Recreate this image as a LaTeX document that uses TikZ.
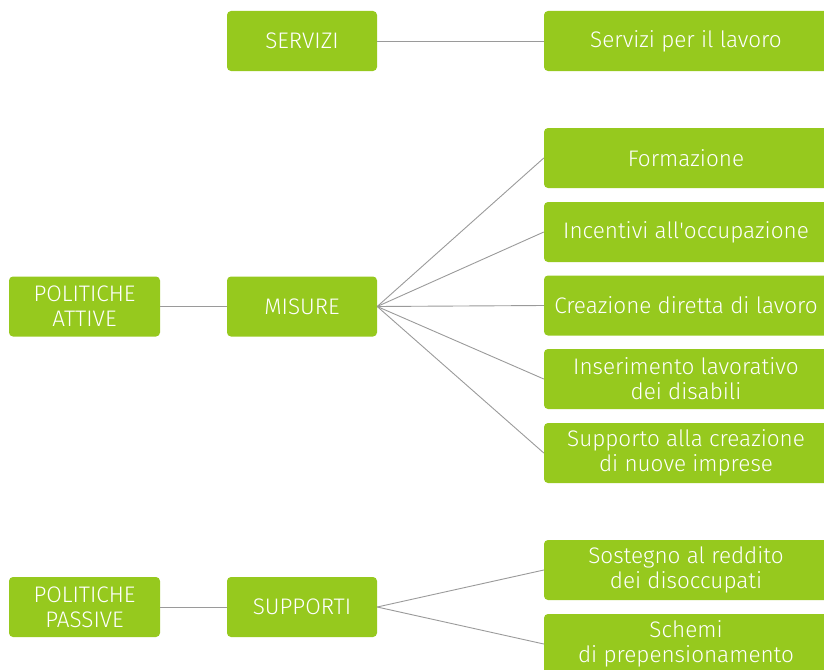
\documentclass[tikz,border=0pt]{standalone}
\usepackage{fontspec}
\setmainfont{Fira Sans Light}
\definecolor{boxgreen}{HTML}{96C91E}
\definecolor{linegray}{HTML}{9A9A9A}
\begin{document}
\begin{tikzpicture}[x=1pt,y=-1pt,
  gbox/.style={fill=boxgreen,draw=none,rounded corners=4pt,text=white,
    font=\fontsize{22.5}{25}\selectfont,align=center,inner sep=0pt,
    minimum height=60pt},
  leftbox/.style={gbox,minimum width=151pt},
  midbox/.style={gbox,minimum width=150pt},
  rightbox/.style={gbox,minimum width=284pt},
  conn/.style={draw=linegray,line width=0.9pt}]
\useasboundingbox (0,0) rectangle (824,669);
\begin{scope}
\clip (0,0) rectangle (824,669);
\node[midbox] (servizi) at (302,41) {SERVIZI};
\node[rightbox] (splav) at (686,41) {Servizi per il lavoro};

\node[leftbox] (attive) at (84.5,306.5) {POLITICHE\\ATTIVE};
\node[midbox] (misure) at (302,306.5) {MISURE};
\node[rightbox] (form) at (686,158) {Formazione};
\node[rightbox] (incent) at (686,232) {Incentivi all\textquotesingle occupazione};
\node[rightbox] (creaz) at (686,305.5) {Creazione diretta di lavoro};
\node[rightbox] (inser) at (686,379) {Inserimento lavorativo\\dei disabili};
\node[rightbox] (suppimp) at (686,453) {Supporto alla creazione\\di nuove imprese};

\node[leftbox] (passive) at (84.5,607) {POLITICHE\\PASSIVE};
\node[midbox] (supporti) at (302,607) {SUPPORTI};
\node[rightbox] (sost) at (686,570) {Sostegno al reddito\\dei disoccupati};
\node[rightbox] (schemi) at (686,644) {Schemi\\di prepensionamento};

\draw[conn] (servizi.east) -- (splav.west);
\draw[conn] (attive.east) -- (misure.west);
\foreach \t in {form,incent,creaz,inser,suppimp}
  \draw[conn] (misure.east) -- (\t.west);
\draw[conn] (passive.east) -- (supporti.west);
\draw[conn] (supporti.east) -- (sost.west);
\draw[conn] (supporti.east) -- (schemi.west);
\end{scope}
\end{tikzpicture}
\end{document}
